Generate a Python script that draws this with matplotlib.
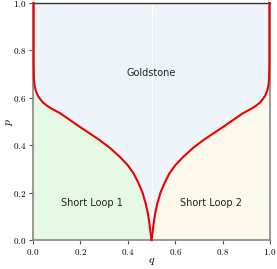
import matplotlib
matplotlib.use("Agg")
import matplotlib.pyplot as plt
import numpy as np

plt.rcParams['mathtext.fontset'] = 'cm'

# boundary of the Goldstone phase, left branch (q, p)
q_left = [0.003, 0.003, 0.004, 0.007, 0.012, 0.02, 0.03, 0.042, 0.06, 0.08, 0.114,
          0.156, 0.198, 0.24, 0.283, 0.325, 0.367, 0.40, 0.425, 0.445, 0.462,
          0.475, 0.485, 0.491, 0.496, 0.5]
p_left = [1.0, 0.75, 0.68, 0.65, 0.63, 0.61, 0.595, 0.58, 0.566, 0.553, 0.535,
          0.506, 0.477, 0.449, 0.42, 0.388, 0.35, 0.315, 0.28, 0.24, 0.20,
          0.155, 0.11, 0.07, 0.03, 0.0]
# right branch
q_right = [0.5, 0.504, 0.509, 0.515, 0.525, 0.538, 0.555, 0.575, 0.60, 0.633,
           0.675, 0.717, 0.76, 0.802, 0.844, 0.886, 0.92, 0.94, 0.958, 0.97,
           0.98, 0.988, 0.993, 0.996, 0.997, 0.997]
p_right = [0.0, 0.03, 0.07, 0.11, 0.155, 0.20, 0.24, 0.28, 0.315, 0.35,
           0.388, 0.42, 0.449, 0.477, 0.506, 0.535, 0.553, 0.566, 0.58, 0.595,
           0.61, 0.63, 0.65, 0.68, 0.75, 1.0]

region_labels = ["Goldstone", "Short Loop 1", "Short Loop 2"]
region_pos = [(0.5, 0.705), (0.25, 0.157), (0.75, 0.157)]
ticks = [0.0, 0.2, 0.4, 0.6, 0.8, 1.0]
tick_labels = [r"$0.0$", r"$0.2$", r"$0.4$", r"$0.6$", r"$0.8$", r"$1.0$"]

fig = plt.figure(figsize=(2.77, 2.69), dpi=100)
ax = fig.add_axes([0.119, 0.108, 0.856, 0.881])

c_gold = '#edf5fb'
c_sl1 = '#e6f9e4'
c_sl2 = '#fdf8ec'

# fills
ax.fill_between(q_left, p_left, 1.0, color=c_gold, lw=0, zorder=1)
ax.fill_between(q_right, p_right, 1.0, color=c_gold, lw=0, zorder=1)
ax.fill_betweenx(p_left, 0.0, q_left, color=c_sl1, lw=0, zorder=1)
ax.fill_betweenx(p_right, q_right, 1.0, color=c_sl2, lw=0, zorder=1)
ax.plot([0.5, 0.5], [0.0, 1.0], color='white', lw=0.9, zorder=2)

ax.plot(q_left, p_left, color='#ee0000', lw=1.5, zorder=3, clip_on=False)
ax.plot(q_right, p_right, color='#ee0000', lw=1.5, zorder=3, clip_on=False)

for lab, (x, y) in zip(region_labels, region_pos):
    ax.text(x, y, lab, ha='center', va='center', fontsize=7, color='#222222', zorder=4)

ax.set_xlim(0, 1)
ax.set_ylim(0, 1)
ax.set_xticks(ticks)
ax.set_xticklabels(tick_labels, fontsize=6.5)
ax.set_yticks(ticks)
ax.set_yticklabels(tick_labels, fontsize=6.5)
ax.tick_params(direction='out', length=3, width=0.8, color='#555555', pad=2)
ax.set_xlabel(r"$q$", fontsize=8.5)
ax.set_ylabel(r"$p$", fontsize=8.5)
ax.xaxis.set_label_coords(0.5, -0.06)
ax.yaxis.set_label_coords(-0.075, 0.5)

for s in ['left', 'bottom', 'right']:
    ax.spines[s].set_color('#888888')
    ax.spines[s].set_linewidth(1.2)
ax.spines['top'].set_color('#333333')
ax.spines['top'].set_linewidth(1.0)

fig.savefig('out.png', dpi=100)
